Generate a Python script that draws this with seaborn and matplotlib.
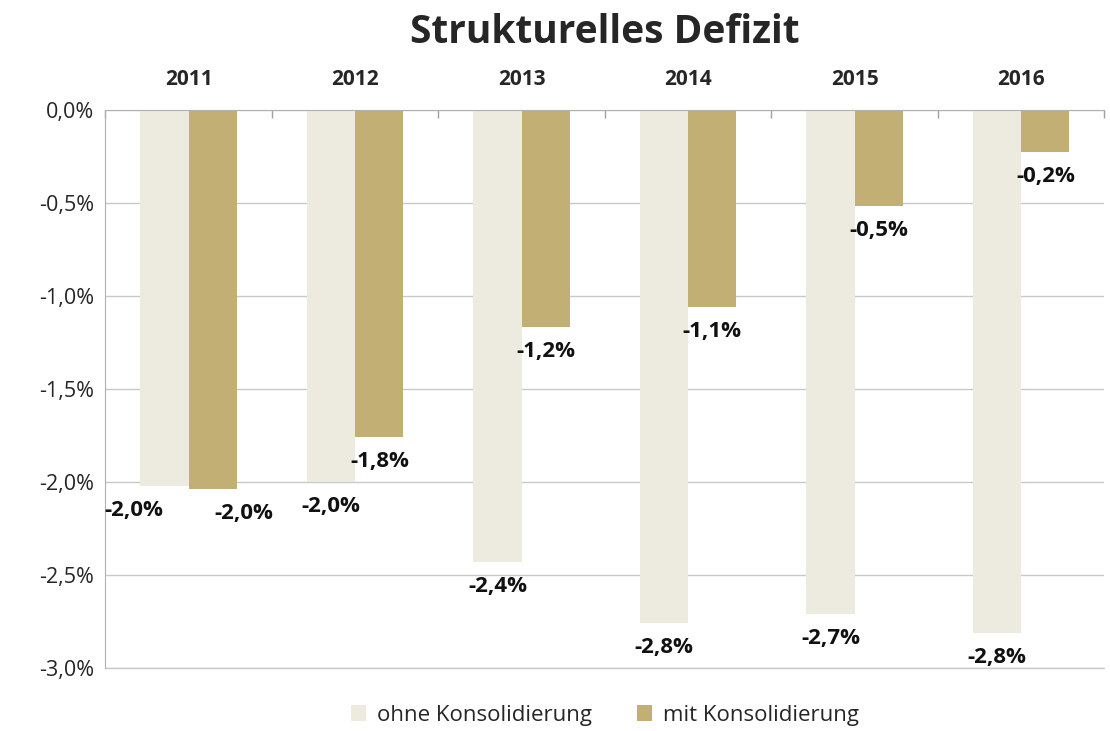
import pandas as pd
import matplotlib.pyplot as plt
import seaborn as sns
import numpy as np

# Daten
jahre = ['2011', '2012', '2013', '2014', '2015', '2016']
ohne_konsolidierung = [-2.02, -2.00, -2.43, -2.76, -2.71, -2.81]
mit_konsolidierung = [-2.04, -1.76, -1.17, -1.06, -0.52, -0.23]
serien = ['ohne Konsolidierung', 'mit Konsolidierung']
farben = ['#EDEBE0', '#C2AF74']

df = pd.DataFrame({
    'Jahr': jahre * 2,
    'Wert': ohne_konsolidierung + mit_konsolidierung,
    'Serie': [serien[0]] * len(jahre) + [serien[1]] * len(jahre),
})

sns.set_style('white')
plt.rcParams['font.family'] = ['Open Sans', 'DejaVu Sans']

fig, ax = plt.subplots(figsize=(11.1, 7.31), dpi=100)
fig.subplots_adjust(left=0.095, right=0.995, top=0.85, bottom=0.086)

sns.barplot(data=df, x='Jahr', y='Wert', hue='Serie', palette=farben,
            width=0.58, gap=0, saturation=1, ax=ax, edgecolor='none')

# Datenbeschriftungen unter den Balken; bei sich überlappenden Paaren auseinanderschieben
fmt = lambda v: f'{v:.1f}%'.replace('.', ',')
c_ohne, c_mit = ax.containers[0], ax.containers[1]
for b_o, b_m in zip(c_ohne, c_mit):
    h_o, h_m = b_o.get_height(), b_m.get_height()
    x_o = b_o.get_x() + b_o.get_width() / 2
    x_m = b_m.get_x() + b_m.get_width() / 2
    dx = 22 if abs(h_o - h_m) < 0.15 else 0
    ax.annotate(fmt(h_o), (x_o, h_o), xytext=(-dx, -10), textcoords='offset points',
                ha='center', va='top', fontsize=16, fontweight='bold', color='#111111')
    ax.annotate(fmt(h_m), (x_m, h_m), xytext=(dx, -10), textcoords='offset points',
                ha='center', va='top', fontsize=16, fontweight='bold', color='#111111')

ax.set_ylim(-3.0, 0.0)
ticks = np.arange(-3.0, 0.01, 0.5)
ax.set_yticks(ticks)
ax.set_yticklabels([fmt(v) for v in ticks], fontsize=15.5)
ax.yaxis.grid(True, color='#C8C8C8', linewidth=1)
ax.axhline(-3.0, color='#C8C8C8', linewidth=1, clip_on=False, zorder=0)
ax.set_axisbelow(True)

ax.xaxis.tick_top()
ax.set_xticks(range(len(jahre)))
ax.set_xticklabels(jahre, fontsize=15, fontweight='bold')
ax.tick_params(axis='x', which='major', length=0, pad=14)
ax.set_xticks(np.arange(-0.5, len(jahre), 1.0), minor=True)
ax.tick_params(axis='x', which='minor', length=6, width=1, direction='in',
               color='#A0A0A0', top=True)
ax.tick_params(axis='y', length=0, pad=8)
ax.set_xlim(-0.5, len(jahre) - 0.5)
ax.set_xlabel('')
ax.set_ylabel('')

for s in ['right', 'bottom']:
    ax.spines[s].set_visible(False)
ax.spines['left'].set_color('#B0B0B0')
ax.spines['top'].set_color('#B0B0B0')

ax.set_title('Strukturelles Defizit', fontsize=28, fontweight='bold', pad=48)

ax.legend(loc='upper center', bbox_to_anchor=(0.5, -0.03), ncol=2, frameon=False,
          fontsize=16, handlelength=0.7, handleheight=0.7, columnspacing=2.0,
          handletextpad=0.5)

plt.savefig('out.png', dpi=100)
